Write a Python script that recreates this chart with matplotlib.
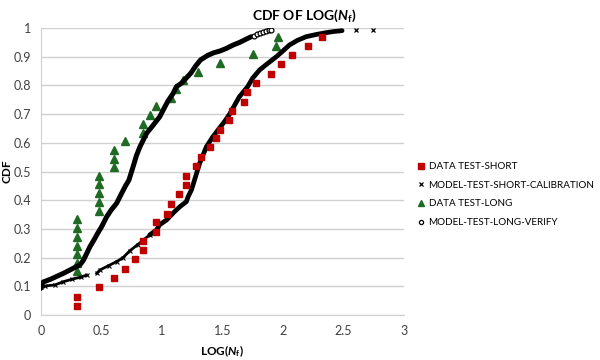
import numpy as np
import matplotlib
matplotlib.use('Agg')
import matplotlib.pyplot as plt
from matplotlib.lines import Line2D

plt.rcParams['font.family'] = ['Lato', 'DejaVu Sans']
plt.rcParams['mathtext.fontset'] = 'custom'
plt.rcParams['mathtext.rm'] = 'Lato:bold'
plt.rcParams['mathtext.it'] = 'Lato:italic:bold'
plt.rcParams['mathtext.bf'] = 'Lato:bold'

# measured data (red squares)
short_x = [0.301, 0.301, 0.477, 0.602, 0.699, 0.778, 0.845, 0.845, 0.954, 0.954,
           1.041, 1.079, 1.146, 1.204, 1.204, 1.279, 1.322, 1.398, 1.447, 1.477,
           1.556, 1.580, 1.681, 1.708, 1.778, 1.903, 1.987, 2.072, 2.207, 2.322]
short_y = [0.032, 0.064, 0.098, 0.129, 0.161, 0.194, 0.228, 0.258, 0.290, 0.323,
           0.353, 0.388, 0.420, 0.453, 0.485, 0.519, 0.552, 0.584, 0.616, 0.646,
           0.680, 0.712, 0.743, 0.776, 0.809, 0.841, 0.875, 0.906, 0.938, 0.969]

# measured data (green triangles)
long_x = [0.301, 0.301, 0.301, 0.301, 0.301, 0.301, 0.301,
          0.477, 0.477, 0.477, 0.477, 0.477,
          0.602, 0.602, 0.602, 0.699, 0.845, 0.845, 0.903, 0.954,
          1.079, 1.114, 1.176, 1.301, 1.477, 1.756, 1.944, 1.964]
long_y = [0.152, 0.182, 0.212, 0.242, 0.273, 0.303, 0.333,
          0.364, 0.394, 0.424, 0.455, 0.485,
          0.515, 0.545, 0.576, 0.606, 0.636, 0.667, 0.697, 0.727,
          0.758, 0.788, 0.818, 0.848, 0.879, 0.909, 0.939, 0.970]

# model, short tests (calibration), lower sparse part and upper dense part
cal_lo_x = [0.000, 0.035, 0.118, 0.186, 0.260, 0.330, 0.379, np.nan,
            0.462, 0.489, 0.560, 0.626, 0.680, 0.736, 0.800, 0.846, 0.900]
cal_lo_y = [0.097, 0.101, 0.105, 0.116, 0.125, 0.132, 0.139, np.nan,
            0.145, 0.157, 0.172, 0.186, 0.200, 0.224, 0.245, 0.261, 0.279]
cal_hi_x = [0.900, 0.956, 0.983, 1.039, 1.100, 1.148, 1.203, 1.217, 1.245, 1.270,
            1.313, 1.368, 1.420, 1.465, 1.520, 1.560, 1.595, 1.640, 1.710, 1.750,
            1.808, 1.870, 1.946, 2.000, 2.055, 2.120, 2.193, 2.280, 2.358, 2.420, 2.490]
cal_hi_y = [0.279, 0.296, 0.315, 0.331, 0.358, 0.377, 0.395, 0.412, 0.436, 0.470,
            0.529, 0.586, 0.620, 0.645, 0.675, 0.700, 0.726, 0.760, 0.796, 0.825,
            0.854, 0.875, 0.900, 0.920, 0.941, 0.957, 0.970, 0.978, 0.984, 0.988, 0.991]
cal_tail_x = [2.605, 2.742]
cal_tail_y = [0.995, 0.995]

# model, long tests (verification)
ver_x = [0.000, 0.005, 0.020, 0.077, 0.186, 0.283, 0.324, 0.351, 0.380, 0.406,
         0.440, 0.462, 0.503, 0.544, 0.580, 0.626, 0.668, 0.700, 0.728, 0.763,
         0.790, 0.819, 0.874, 0.935, 0.983, 1.011, 1.050, 1.093, 1.121, 1.160,
         1.200, 1.240, 1.280, 1.320, 1.380, 1.430, 1.480, 1.533, 1.590, 1.643,
         1.700, 1.740]
ver_y = [0.093, 0.105, 0.115, 0.124, 0.145, 0.166, 0.175, 0.190, 0.215, 0.238,
         0.262, 0.279, 0.308, 0.342, 0.365, 0.389, 0.424, 0.450, 0.470, 0.517,
         0.555, 0.586, 0.633, 0.665, 0.691, 0.714, 0.745, 0.772, 0.796, 0.807,
         0.825, 0.843, 0.868, 0.889, 0.905, 0.914, 0.920, 0.929, 0.941, 0.950,
         0.962, 0.970]
ver_tail_x = [1.760, 1.785, 1.810, 1.835, 1.860, 1.885, 1.904]
ver_tail_y = [0.974, 0.978, 0.983, 0.987, 0.990, 0.992, 0.995]

red = '#C00000'
green = '#1F6B24'

fig = plt.figure(figsize=(6, 3.6), dpi=100)
ax = fig.add_axes([0.068, 0.125, 0.605, 0.797])

ax.plot(cal_lo_x, cal_lo_y, color='black', lw=2.0, marker='x', ms=3, mew=0.8, zorder=3)
ax.plot(cal_hi_x, cal_hi_y, color='black', lw=3.4, solid_capstyle='round', zorder=3)
ax.plot(cal_tail_x, cal_tail_y, ls='none', color='black', marker='x', ms=3.5, mew=0.9, zorder=3)
ax.plot(ver_x, ver_y, color='black', lw=3.6, solid_capstyle='round', zorder=3)
ax.plot(ver_tail_x, ver_tail_y, ls='none', marker='o', ms=3.5, mfc='white', mec='black',
        mew=0.9, zorder=3)
ax.plot(short_x, short_y, ls='none', marker='s', ms=4.3, color=red, zorder=4)
ax.plot(long_x, long_y, ls='none', marker='^', ms=5.5, color=green, zorder=2)

ax.set_xlim(0, 3)
ax.set_ylim(0, 1)
ax.set_xticks([0, 0.5, 1, 1.5, 2, 2.5, 3])
ax.set_xticklabels(['0', '0.5', '1', '1.5', '2', '2.5', '3'])
ax.set_yticks(np.arange(0, 1.01, 0.1))
ax.set_yticklabels(['0', '0.1', '0.2', '0.3', '0.4', '0.5', '0.6', '0.7', '0.8', '0.9', '1'])
ax.tick_params(length=0, labelsize=9, colors='#404040', pad=7)
ax.yaxis.grid(True, color='#D0D0D0', lw=1)
ax.set_axisbelow(True)
for s in ['top', 'right']:
    ax.spines[s].set_visible(False)
for s in ['left', 'bottom']:
    ax.spines[s].set_color('#D0D0D0')

ax.set_xlabel(r'LOG($N_{\rm f}$)', fontsize=8.5, fontweight='bold')
ax.set_ylabel('CDF', fontsize=8.5, fontweight='bold')
ax.xaxis.set_label_coords(0.5, -0.098)
ax.yaxis.set_label_coords(-0.078, 0.5)
fig.text(0.508, 0.978, r'CDF OF LOG($N_{\rm f}$)', ha='center', va='top',
         fontsize=10, fontweight='bold')

handles = [
    Line2D([], [], ls='none', marker='s', ms=4, color=red),
    Line2D([], [], ls='none', marker='x', ms=3, mew=0.9, color='black'),
    Line2D([], [], ls='none', marker='^', ms=5, color=green),
    Line2D([], [], ls='none', marker='o', ms=3, mfc='white', mec='black', mew=0.9),
]
labels = ['DATA TEST-SHORT', 'MODEL-TEST-SHORT-CALIBRATION', 'DATA TEST-LONG',
          'MODEL-TEST-LONG-VERIFY']
fig.legend(handles, labels, loc='upper left', bbox_to_anchor=(0.697, 0.55),
           frameon=False, fontsize=7.1, handlelength=0.6, handletextpad=0.45,
           labelspacing=0.98, borderaxespad=0, borderpad=0)

fig.savefig('out.png', dpi=100)
